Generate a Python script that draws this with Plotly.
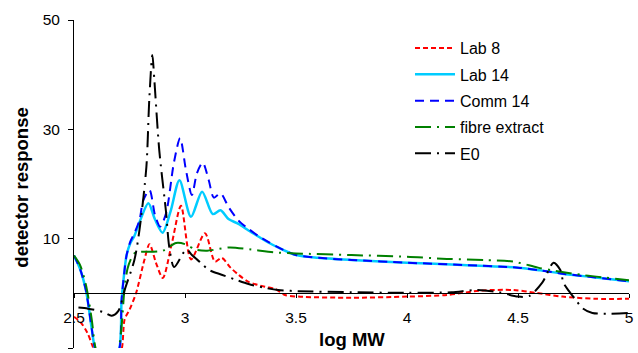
import plotly.graph_objects as go

# ---------------- data ----------------
lab8_x = [2.5, 2.53, 2.56, 2.585, 2.65, 2.714, 2.728, 2.75, 2.78, 2.817, 2.84, 2.87, 2.9, 2.94,
          2.982, 3.027, 3.09, 3.135, 3.165, 3.205, 3.241, 3.286, 3.36, 3.406, 3.45, 3.51, 3.75,
          4.0, 4.18, 4.33, 4.48, 4.58, 4.7, 4.85, 5.0]
lab8_y = [-4.3, -5.3, -7.2, -9.8, -17, -10.4, -4.8, -3.0, 0.1, 6.1, 9.0, 5.5, 2.8, 9.0,
          16.0, 6.2, 11.0, 5.8, 6.5, 4.7, 3.4, 2.1, 1.2, 0.8, -0.3, -0.6, -0.8,
          -0.6, -0.3, 0.5, 0.6, 0.1, -0.6, -1.0, -1.0]

lab14_x = [2.5, 2.527, 2.554, 2.58, 2.594, 2.65, 2.705, 2.714, 2.723, 2.737, 2.754, 2.772,
           2.795, 2.835, 2.865, 2.899, 2.935, 2.975, 3.027, 3.077, 3.125, 3.16, 3.196, 3.241,
           3.286, 3.33, 3.375, 3.44, 3.5, 3.6, 3.75, 4.0, 4.25, 4.5, 4.6, 4.7, 4.85, 5.0]
lab14_y = [6.9, 4.5, 0.5, -6.5, -10, -16, -10, -1.5, 2.5, 7.0, 9.2, 10.5,
           13.0, 16.5, 13.5, 11.1, 15.0, 20.7, 14.0, 18.6, 14.5, 15.2, 13.6, 12.7,
           11.5, 10.4, 9.3, 8.0, 7.0, 6.5, 6.1, 5.6, 5.2, 4.7, 4.2, 3.6, 2.9, 2.2]

comm14_x = [2.5, 2.527, 2.554, 2.58, 2.594, 2.65, 2.705, 2.714, 2.723, 2.737, 2.754, 2.772,
            2.795, 2.812, 2.84, 2.865, 2.888, 2.915, 2.95, 2.978, 3.004, 3.031, 3.054, 3.08,
            3.107, 3.13, 3.16, 3.196, 3.241, 3.286, 3.33, 3.375, 3.44, 3.5, 3.6, 3.75,
            4.0, 4.25, 4.5, 4.6, 4.7, 4.85, 5.0]
comm14_y = [6.9, 4.5, 0.5, -6.5, -10, -16, -10, -1.5, 2.5, 7.0, 9.5, 11.0,
            13.4, 17.0, 18.9, 14.3, 12.2, 14.7, 23.9, 28.4, 22.6, 18.0, 22.0, 23.9,
            20.7, 17.5, 18.3, 15.8, 13.3, 11.8, 10.5, 9.4, 8.0, 7.0, 6.5, 6.1,
            5.6, 5.2, 4.7, 4.2, 3.6, 2.9, 2.2]

fibre_x = [2.5, 2.527, 2.554, 2.58, 2.597, 2.65, 2.702, 2.728, 2.741, 2.759, 2.775, 2.8,
           2.85, 2.9, 2.96, 3.0, 3.05, 3.1, 3.2, 3.3, 3.4, 3.5, 3.75, 4.0, 4.18, 4.35,
           4.48, 4.59, 4.67, 4.8, 5.0]
fibre_y = [6.9, 5.2, 1.5, -4.8, -10, -16, -10, 1.0, 4.5, 6.5, 7.4, 7.6,
           7.6, 7.8, 9.2, 9.0, 8.0, 7.8, 8.4, 8.0, 7.5, 7.3, 7.0, 6.7, 6.3, 6.1,
           5.8, 4.7, 4.1, 3.3, 2.4]

e0_x = [2.52, 2.563, 2.63, 2.67, 2.7, 2.728, 2.772, 2.795, 2.826, 2.839, 2.853, 2.862,
        2.884, 2.915, 2.929, 2.951, 2.996, 3.009, 3.031, 3.071, 3.107, 3.165, 3.228, 3.286,
        3.36, 3.42, 3.51, 3.75, 4.0, 4.2, 4.31, 4.415, 4.5, 4.55, 4.61, 4.66, 4.69, 4.705,
        4.728, 4.76, 4.79, 4.835, 5.0]
e0_y = [-2.6, -2.8, -3.4, -4.1, -3.2, 0.6, 6.1, 11.6, 23.1, 35.4, 43.6, 39.0,
        26.2, 14.7, 8.5, 4.8, 7.6, 8.0, 7.0, 5.6, 4.3, 3.4, 2.5, 1.7,
        1.0, 0.6, 0.4, 0.2, 0.1, 0.2, 0.6, 0.2, -0.6, -0.5, 2.0, 5.6, 4.3, 1.9,
        0.5, -1.2, -2.7, -3.6, -3.6]

x_ticks = [2.5, 3, 3.5, 4, 4.5, 5]
x_tick_text = ["2.5", "3", "3.5", "4", "4.5", "5"]
y_ticks = [-10, 10, 30, 50]

series = [
    ("Lab 8", lab8_x, lab8_y, "#ff0000", "5px,3px", 2),
    ("Lab 14", lab14_x, lab14_y, "#00ccff", "solid", 2.5),
    ("Comm 14", comm14_x, comm14_y, "#0000ff", "9px,6px", 2),
    ("fibre extract", fibre_x, fibre_y, "#008000", "16px,6px,2px,6px", 2),
    ("E0", e0_x, e0_y, "#000000", "16px,6px,2px,6px", 2),
]

fig = go.Figure()
for name, xs, ys, col, dash, w in series:
    fig.add_trace(go.Scatter(
        x=xs, y=ys, mode="lines", name=name, legendgroup=name,
        line=dict(color=col, dash=dash, width=w, shape="spline", smoothing=0.8),
    ))

FONT = "Liberation Sans, Arial, sans-serif"
fig.update_layout(
    width=638, height=353,
    margin=dict(l=74, r=5, t=20, b=5),
    paper_bgcolor="white", plot_bgcolor="white",
    font=dict(family=FONT, size=15.5, color="#000"),
    showlegend=True,
    legend=dict(x=0.6054, y=0.966, xanchor="left", yanchor="top",
                bgcolor="rgba(0,0,0,0)", font=dict(size=16, family=FONT),
                tracegroupgap=2.5, itemwidth=40),
    xaxis=dict(range=[2.5, 5], tickvals=x_ticks, ticktext=x_tick_text,
               showgrid=False, zeroline=False, showline=True, linecolor="#000",
               linewidth=1, ticks="outside", ticklen=4, tickcolor="#000",
               anchor="free", position=1/6, ticklabelstandoff=6),
    yaxis=dict(range=[-10, 50], tickvals=y_ticks, showgrid=False, zeroline=False,
               showline=True, linecolor="#000", linewidth=1, ticks="outside",
               ticklen=5, tickcolor="#000", ticklabelstandoff=5),
)
fig.add_annotation(text="<b>detector response</b>", xref="paper", yref="paper",
                   x=-0.0948, y=0.49, xanchor="center", yanchor="middle",
                   textangle=-90, showarrow=False,
                   font=dict(size=18.5, family=FONT, color="#000"))
fig.add_annotation(text="<b>log MW</b>", xref="paper", yref="paper",
                   x=0.501, y=0.0274, xanchor="center", yanchor="middle",
                   showarrow=False,
                   font=dict(size=18.5, family=FONT, color="#000"))

fig.write_html("out.html")
